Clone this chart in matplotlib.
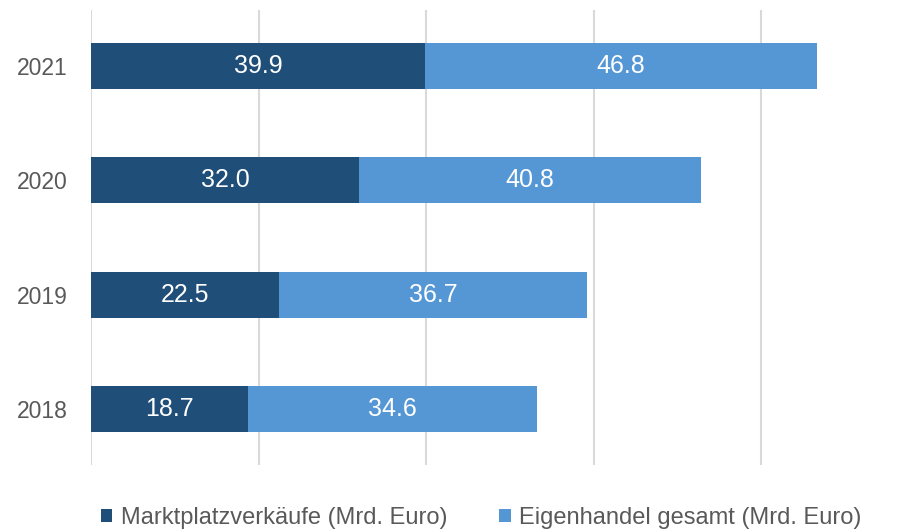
import matplotlib
matplotlib.use("Agg")
import matplotlib.pyplot as plt
import numpy as np

plt.rcParams['font.family'] = ['Liberation Sans', 'DejaVu Sans']

# data
years = ["2018", "2019", "2020", "2021"]
marktplatz = [18.7, 22.5, 32.0, 39.9]
eigenhandel = [34.6, 36.7, 40.8, 46.8]
series_names = ["Marktplatzverkäufe (Mrd. Euro)", "Eigenhandel gesamt (Mrd. Euro)"]

dark = "#1F4E79"
light = "#5597D4"
grey = "#595959"

fig = plt.figure(figsize=(9.17, 5.31), dpi=100)
ax = fig.add_axes([91 / 917, 1 - 465 / 531, 753.75 / 917, 455 / 531])

y = np.arange(len(years))
b1 = ax.barh(y, marktplatz, height=0.4, color=dark, label=series_names[0], zorder=3)
b2 = ax.barh(y, eigenhandel, left=marktplatz, height=0.4, color=light,
             label=series_names[1], zorder=3)

for bars in (b1, b2):
    ax.bar_label(bars, labels=[f"{b.get_width():.1f}" for b in bars],
                 label_type="center", color="white", fontsize=18)

ax.set_xlim(0, 90)
ax.set_ylim(-0.49, 3.49)
ax.set_xticks([0, 20, 40, 60, 80])
ax.set_xticklabels([])
ax.set_yticks(y)
ax.set_yticklabels(years)
ax.tick_params(axis="both", length=0)
ax.tick_params(axis="y", pad=17, labelsize=16.5, labelcolor=grey)
ax.grid(axis="x", color="#D9D9D9", linewidth=1.5, zorder=0)
for s in ax.spines.values():
    s.set_visible(False)

fig.legend(handles=[b1, b2], loc="center", bbox_to_anchor=(481 / 917, 1 - 518 / 531),
           ncol=2, frameon=False, fontsize=17, labelcolor=grey,
           handlelength=0.5, handleheight=0.5, handletextpad=0.35, columnspacing=2.2,
           borderaxespad=0)

fig.savefig("out.png", dpi=100)
